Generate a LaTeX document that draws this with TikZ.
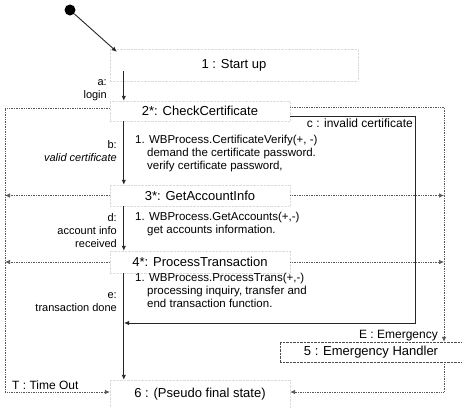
\documentclass[tikz,border=0pt]{standalone}
\usepackage{fontspec}
\setmainfont{Liberation Sans}
\usetikzlibrary{arrows.meta}
\begin{document}
\begin{tikzpicture}[x=1pt,y=-1pt,>={Latex[length=5pt,width=4.5pt]}]
\tikzstyle{state}=[draw=black!14,densely dotted,minimum width=180pt,inner sep=0pt,font=\fontsize{13}{15}\selectfont]
\tikzstyle{act}=[anchor=west,inner sep=0pt,font=\fontsize{11.5}{13}\selectfont]
\tikzstyle{lbl}=[anchor=east,align=right,inner sep=0pt,font=\fontsize{11}{13}\selectfont]
\tikzstyle{tr}=[black!65,densely dotted,line width=0.7pt]
\tikzstyle{go}=[black!85,line width=0.9pt]
\useasboundingbox (0,0) rectangle (462,407);
\node (init) at (70,10) [circle,fill,inner sep=0pt,minimum size=11pt] {};
\node (s1) at (234,65) [state,minimum width=248pt,minimum height=32pt] {1 : Start up};
\node (s2) at (200,111) [state,minimum height=20pt] {2*: CheckCertificate};
\node (s3) at (200,195.5) [state,minimum height=21pt] {3*: GetAccountInfo};
\node (s4) at (200,262) [state,minimum height=22pt] {4*: ProcessTransaction};
\node (s5) at (371,352) [state,draw=black!70,minimum width=182pt,minimum height=20pt] {5 : Emergency Handler};
\node (s6) at (200,394) [state,minimum height=28pt] {6 : (Pseudo final state)};
\coordinate (tout) at (5,108);
\coordinate (tend) at (5,392);
\coordinate (emg) at (444,107);
\coordinate (eend) at (444,392);
\coordinate (inv) at (415,323);
\coordinate (join) at (124,323);
% main flow
\draw[go,->] (init) -- ([shift={(7pt,-3pt)}]s1.north west);
\draw[go,->] ([shift={(14pt,-6pt)}]s1.west) -- ([xshift=14pt]s2.north west);
\draw[go,->] ([xshift=14pt]s2.south west) -- ([xshift=14pt]s3.north west);
\draw[go,->] ([xshift=14pt]s3.south west) -- ([xshift=14pt]s4.north west);
\draw[go,->] ([xshift=14pt]s4.south west) -- ([xshift=14pt]s6.north west);
\draw[go,->] ([yshift=-5pt]s2.east) -| (inv) -- (join);
\node[lbl] (la) at (107,90) {a:\\login};
\node[lbl] (lb) at (117,151.5) {b:\\\textit{valid certificate}};
\node[lbl] (ld) at (117,231) {d:\\account info\\received};
\node[lbl] (le) at (117,302.5) {e:\\transaction done};
\node[lbl,font=\fontsize{12}{14}\selectfont] (lc) at (413,123) {c : invalid certificate};
\node[act] (p2) at (135,154) {\begin{tabular}{@{}l@{}}1. WBProcess.CertificateVerify(+, -)\\\hspace*{12pt}demand the certificate password.\\\hspace*{12pt}verify certificate password,\end{tabular}};
\node[act] (p3) at (135,224) {\begin{tabular}{@{}l@{}}1. WBProcess.GetAccounts(+,-)\\\hspace*{12pt}get accounts information.\end{tabular}};
\node[act] (p4) at (135,292) {\begin{tabular}{@{}l@{}}1. WBProcess.ProcessTrans(+,-)\\\hspace*{12pt}processing inquiry, transfer and\\\hspace*{12pt}end transaction function.\end{tabular}};
% time out
\draw[tr,->] ([yshift=3pt]s2.west) -- (tout) -- (tend) -- (tend -| s6.west);
\draw[tr,->] (s3.west) -- (s3.west -| tout);
\draw[tr,->] (s4.west) -- (s4.west -| tout);
\node[lbl,anchor=west,font=\fontsize{12}{14}\selectfont] (lt) at (12,385) {T : Time Out};
% emergency
\draw[tr,->] ([yshift=4pt]s2.east) -- (emg) -- (emg |- s5.north);
\draw[tr,->] (s3.east) -- (s3.east -| emg);
\draw[tr,->] (s4.east) -- (s4.east -| emg);
\draw[tr,->] (emg |- s5.south) -- (eend) -- (eend -| s6.east);
\node[lbl,font=\fontsize{12}{14}\selectfont] (le2) at (438,336) {E : Emergency};
\end{tikzpicture}
\end{document}
